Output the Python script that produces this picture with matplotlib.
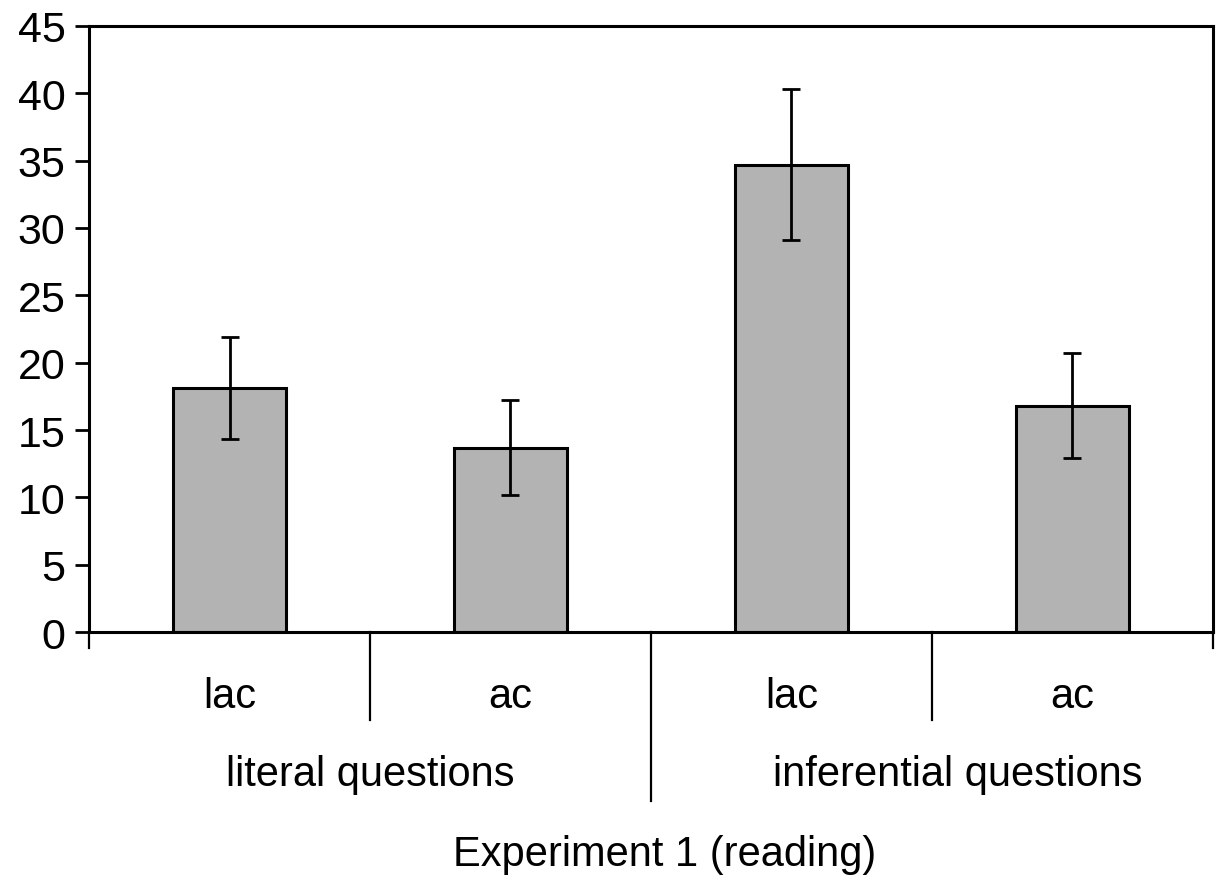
import matplotlib
matplotlib.use("Agg")
import matplotlib.pyplot as plt
from matplotlib.transforms import blended_transform_factory

plt.rcParams["font.family"] = ["Liberation Sans", "DejaVu Sans"]

# values
conditions = ["lac", "ac", "lac", "ac"]
groups = ["literal questions", "inferential questions"]
means = [18.1, 13.7, 34.7, 16.8]
errors = [3.8, 3.5, 5.6, 3.9]
xlabel = "Experiment 1 (reading)"

fig = plt.figure(figsize=(12.16, 8.78), dpi=100)
ax = fig.add_axes([0.0732, 0.279, 0.9243, 0.6903])

x = list(range(len(means)))
ax.bar(x, means, width=0.40, color="#b3b3b3", edgecolor="black", linewidth=2.2,
       zorder=2)
ax.errorbar(x, means, yerr=errors, fmt="none", ecolor="black", elinewidth=2.0,
            capsize=6.5, capthick=2.0, zorder=3)

ax.set_xlim(-0.5, len(means) - 0.5)
ax.set_ylim(0, 45)
ax.set_yticks(range(0, 46, 5))
ax.set_xticks([])
ax.tick_params(axis="y", direction="out", length=10, width=2, pad=7,
               labelsize=31)
for side in ("left", "bottom", "top", "right"):
    ax.spines[side].set_linewidth(2.2)

# category separators below the axis
tr = blended_transform_factory(ax.transData, ax.transAxes)
seps = [(-0.5, -0.026), (0.5, -0.145), (1.5, -0.279), (2.5, -0.145), (3.5, -0.026)]
for xs, yend in seps:
    ax.plot([xs, xs], [0, yend], color="black", lw=1.6, transform=tr,
            clip_on=False)

fs = 30
for xi, lab in zip(x, conditions):
    ax.text(xi, -0.106, lab, transform=tr, ha="center", va="center",
            fontsize=fs)
ax.text(0.5, -0.235, groups[0], transform=tr, ha="center", va="center",
        fontsize=fs)
ax.text(2.59, -0.235, groups[1], transform=tr, ha="center", va="center",
        fontsize=fs)
ax.text(1.55, -0.366, xlabel, transform=tr, ha="center", va="center",
        fontsize=fs)

fig.savefig("out.png", dpi=100)
